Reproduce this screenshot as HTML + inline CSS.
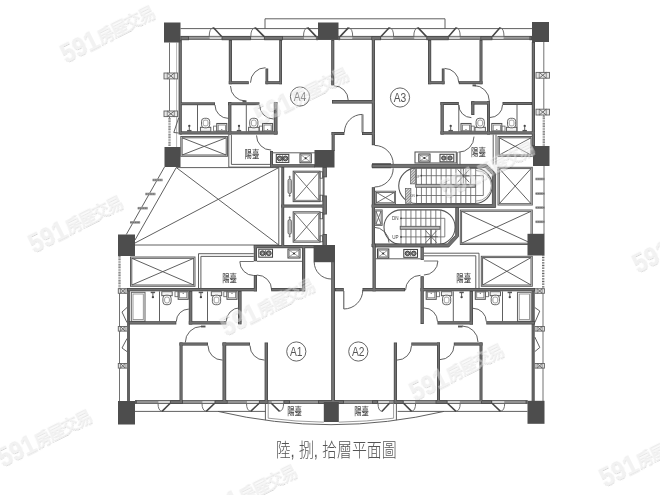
<!DOCTYPE html>
<html lang="zh-Hant"><head><meta charset="utf-8"><title>陸, 捌, 拾層平面圖</title>
<style>html,body{margin:0;padding:0;background:#fff;}body{width:660px;height:495px;overflow:hidden;}svg{display:block;filter:grayscale(1);}</style>
</head><body>
<svg width="660" height="495" viewBox="0 0 660 495">
<rect width="660" height="495" fill="#ffffff"/>
<g id="top-facade">
<line x1="180.5" y1="28.6" x2="532" y2="28.6" stroke="#555555" stroke-width="0.94"/>
<path d="M265 28.6 V18.8 H445 V28.6" fill="none" stroke="#555555" stroke-width="0.94"/>
<rect x="180.5" y="36.4" width="351.5" height="2.9" fill="#9a9a9a"/>
<line x1="180.5" y1="36.4" x2="532" y2="36.4" stroke="#505050" stroke-width="0.94"/>
<line x1="180.5" y1="39.3" x2="532" y2="39.3" stroke="#505050" stroke-width="0.94"/>
<rect x="180.5" y="36.1" width="8.5" height="4.1" fill="#464646"/>
<rect x="221.7" y="36.1" width="29.1" height="4.1" fill="#464646"/>
<rect x="264.2" y="36.1" width="18.8" height="4.1" fill="#464646"/>
<rect x="316.2" y="36.1" width="1.8" height="4.1" fill="#5a5a5a"/>
<rect x="338.5" y="36.1" width="1.5" height="4.1" fill="#5a5a5a"/>
<rect x="371.4" y="36.1" width="9.6" height="4.1" fill="#464646"/>
<rect x="426.5" y="36.1" width="22.1" height="4.1" fill="#464646"/>
<rect x="480.4" y="36.1" width="11.9" height="4.1" fill="#464646"/>
<rect x="529.5" y="36.1" width="2.5" height="4.1" fill="#464646"/>
<rect x="209.7" y="36.8" width="11.5" height="2.1" fill="#f4f4f4"/>
<line x1="209.7" y1="37.85" x2="221.2" y2="37.85" stroke="#888" stroke-width="0.59"/>
<path d="M209.2 36.6 Q209.2 28.4 213.32 27.6" fill="none" stroke="#666" stroke-width="0.94"/>
<path d="M213.32 27.6 L221.7 36.6" fill="none" stroke="#444" stroke-width="1.53"/>
<rect x="251.3" y="36.8" width="12.4" height="2.1" fill="#f4f4f4"/>
<line x1="251.3" y1="37.85" x2="263.7" y2="37.85" stroke="#888" stroke-width="0.59"/>
<path d="M250.8 36.6 Q250.8 28.4 255.22 27.6" fill="none" stroke="#666" stroke-width="0.94"/>
<path d="M255.22 27.6 L264.2 36.6" fill="none" stroke="#444" stroke-width="1.53"/>
<rect x="304" y="36.8" width="11.7" height="2.1" fill="#f4f4f4"/>
<line x1="304" y1="37.85" x2="315.7" y2="37.85" stroke="#888" stroke-width="0.59"/>
<path d="M303.5 36.6 Q303.5 28.4 307.69 27.6" fill="none" stroke="#666" stroke-width="0.94"/>
<path d="M307.69 27.6 L316.2 36.6" fill="none" stroke="#444" stroke-width="1.53"/>
<rect x="340.5" y="36.8" width="11.7" height="2.1" fill="#f4f4f4"/>
<line x1="340.5" y1="37.85" x2="352.2" y2="37.85" stroke="#888" stroke-width="0.59"/>
<path d="M352.7 36.6 Q352.7 28.4 348.51 27.6" fill="none" stroke="#666" stroke-width="0.94"/>
<path d="M348.51 27.6 L340 36.6" fill="none" stroke="#444" stroke-width="1.53"/>
<rect x="381.5" y="36.8" width="11.6" height="2.1" fill="#f4f4f4"/>
<line x1="381.5" y1="37.85" x2="393.1" y2="37.85" stroke="#888" stroke-width="0.59"/>
<path d="M393.6 36.6 Q393.6 28.4 389.44 27.6" fill="none" stroke="#666" stroke-width="0.94"/>
<path d="M389.44 27.6 L381 36.6" fill="none" stroke="#444" stroke-width="1.53"/>
<rect x="414.3" y="36.8" width="11.7" height="2.1" fill="#f4f4f4"/>
<line x1="414.3" y1="37.85" x2="426" y2="37.85" stroke="#888" stroke-width="0.59"/>
<path d="M413.8 36.6 Q413.8 28.4 417.99 27.6" fill="none" stroke="#666" stroke-width="0.94"/>
<path d="M417.99 27.6 L426.5 36.6" fill="none" stroke="#444" stroke-width="1.53"/>
<rect x="449.1" y="36.8" width="10.6" height="2.1" fill="#f4f4f4"/>
<line x1="449.1" y1="37.85" x2="459.7" y2="37.85" stroke="#888" stroke-width="0.59"/>
<path d="M460.2 36.6 Q460.2 28.4 456.37 27.6" fill="none" stroke="#666" stroke-width="0.94"/>
<path d="M456.37 27.6 L448.6 36.6" fill="none" stroke="#444" stroke-width="1.53"/>
<rect x="492.8" y="36.8" width="10.7" height="2.1" fill="#f4f4f4"/>
<line x1="492.8" y1="37.85" x2="503.5" y2="37.85" stroke="#888" stroke-width="0.59"/>
<path d="M504 36.6 Q504 28.4 500.14 27.6" fill="none" stroke="#666" stroke-width="0.94"/>
<path d="M500.14 27.6 L492.3 36.6" fill="none" stroke="#444" stroke-width="1.53"/>
</g>
<g id="unit-a4">
<rect x="178.6" y="40" width="3.2" height="94.5" fill="#464646"/>
<line x1="169.5" y1="42.5" x2="169.5" y2="118" stroke="#555555" stroke-width="0.83"/>
<line x1="176.6" y1="42.5" x2="176.6" y2="147" stroke="#999" stroke-width="0.71"/>
<rect x="164" y="73" width="13.6" height="5.9" fill="#e6e6e6" stroke="#666" stroke-width="0.94"/>
<line x1="167.26" y1="73" x2="174.34" y2="78.9" stroke="#555" stroke-width="0.83"/>
<line x1="167.26" y1="78.9" x2="174.34" y2="73" stroke="#555" stroke-width="0.83"/>
<line x1="167.26" y1="73" x2="167.26" y2="78.9" stroke="#666" stroke-width="0.71"/>
<line x1="174.34" y1="73" x2="174.34" y2="78.9" stroke="#666" stroke-width="0.71"/>
<rect x="164" y="111" width="13.6" height="5.6" fill="#e6e6e6" stroke="#666" stroke-width="0.94"/>
<line x1="167.26" y1="111" x2="174.34" y2="116.6" stroke="#555" stroke-width="0.83"/>
<line x1="167.26" y1="116.6" x2="174.34" y2="111" stroke="#555" stroke-width="0.83"/>
<line x1="167.26" y1="111" x2="167.26" y2="116.6" stroke="#666" stroke-width="0.71"/>
<line x1="174.34" y1="111" x2="174.34" y2="116.6" stroke="#666" stroke-width="0.71"/>
<line x1="169.5" y1="118" x2="169.5" y2="146.6" stroke="#666" stroke-width="2.36" stroke-dasharray="0.8 0.8"/>
<path d="M178.6 118 L173.8 132.5 L178.6 133" fill="none" stroke="#555" stroke-width="0.94"/>
<rect x="228.8" y="40" width="3.2" height="44.2" fill="#464646"/>
<rect x="228.8" y="81.2" width="20" height="3" fill="#464646"/>
<path d="M250.5 82.7 A15 15 0 0 1 265.5 67.7" fill="none" stroke="#555555" stroke-width="0.94"/>
<rect x="265.5" y="68.5" width="2.7" height="15.7" fill="#464646"/>
<rect x="265.5" y="81.2" width="16.5" height="3" fill="#464646"/>
<rect x="279.2" y="40" width="2.8" height="44.2" fill="#464646"/>
<path d="M230.5 86 A15 15 0 0 0 245.5 101" fill="none" stroke="#555555" stroke-width="0.94"/>
<line x1="242.5" y1="101.3" x2="246.5" y2="101.3" stroke="#555" stroke-width="1.89"/>
<rect x="180" y="102.3" width="35" height="2.9" fill="#464646"/>
<path d="M215 105 A13.4 13.4 0 0 0 228.4 118.4" fill="none" stroke="#555555" stroke-width="0.94"/>
<line x1="197.5" y1="105" x2="197.5" y2="131.5" stroke="#555555" stroke-width="0.94"/>
<rect x="228.2" y="102" width="3.2" height="32.5" fill="#464646"/>
<rect x="228.2" y="102.3" width="31.3" height="2.9" fill="#464646"/>
<path d="M259.6 105 A14 14 0 0 0 273.6 119" fill="none" stroke="#555555" stroke-width="0.94"/>
<rect x="273.8" y="102" width="3.7" height="32.5" fill="#464646"/>
<line x1="246.3" y1="105" x2="246.3" y2="131.5" stroke="#555555" stroke-width="0.94"/>
<rect x="180" y="131.3" width="97.5" height="3.2" fill="#464646"/>
<circle cx="189.3" cy="125.9" r="1.15" fill="#444"/>
<line x1="189.3" y1="125.9" x2="189.3" y2="130.5" stroke="#555" stroke-width="0.94"/>
<line x1="187.1" y1="130.7" x2="191.5" y2="130.7" stroke="#555" stroke-width="1.53"/>
<rect x="200.4" y="127.3" width="10.4" height="4" fill="#f2f2f2" stroke="#555" stroke-width="0.94"/>
<rect x="201.5" y="118.3" width="8.2" height="9.5" rx="3" fill="#fff" stroke="#555" stroke-width="0.9"/>
<rect x="203.2" y="120.1" width="4.8" height="5.8" rx="1.8" fill="none" stroke="#777" stroke-width="0.7"/>
<rect x="213.6" y="126.1" width="3.2" height="5" fill="none" stroke="#666" stroke-width="0.83"/>
<rect x="216.8" y="123.5" width="10" height="7.6" fill="#fff" stroke="#555" stroke-width="1.06"/>
<rect x="218.2" y="125" width="7.2" height="5.9" fill="none" stroke="#777" stroke-width="0.83"/>
<circle cx="221.8" cy="129.5" r="0.6" fill="#555"/>
<circle cx="239" cy="125.9" r="1.15" fill="#444"/>
<line x1="239" y1="125.9" x2="239" y2="130.5" stroke="#555" stroke-width="0.94"/>
<line x1="236.8" y1="130.7" x2="241.2" y2="130.7" stroke="#555" stroke-width="1.53"/>
<rect x="248.6" y="127.3" width="10.4" height="4" fill="#f2f2f2" stroke="#555" stroke-width="0.94"/>
<rect x="249.7" y="118.3" width="8.2" height="9.5" rx="3" fill="#fff" stroke="#555" stroke-width="0.9"/>
<rect x="251.4" y="120.1" width="4.8" height="5.8" rx="1.8" fill="none" stroke="#777" stroke-width="0.7"/>
<rect x="259.4" y="126.1" width="3.2" height="5" fill="none" stroke="#666" stroke-width="0.83"/>
<rect x="262.6" y="123.5" width="10" height="7.6" fill="#fff" stroke="#555" stroke-width="1.06"/>
<rect x="264" y="125" width="7.2" height="5.9" fill="none" stroke="#777" stroke-width="0.83"/>
<circle cx="267.6" cy="129.5" r="0.6" fill="#555"/>
<rect x="180.8" y="136.5" width="46.7" height="19.8" fill="none" stroke="#555555" stroke-width="0.94"/>
<rect x="182.1" y="137.8" width="44.1" height="17.2" fill="none" stroke="#555555" stroke-width="0.94"/>
<line x1="182.1" y1="137.8" x2="226.2" y2="155" stroke="#555555" stroke-width="0.94"/>
<line x1="182.1" y1="155" x2="226.2" y2="137.8" stroke="#555555" stroke-width="0.94"/>
<path d="M228.8 134.8 V167.1 H270.2" fill="none" stroke="#555555" stroke-width="0.94"/>
<path d="M231.4 134.8 V164.4 H270.2" fill="none" stroke="#555555" stroke-width="0.94"/>
<path d="M256.5 135.4 A14.7 14.7 0 0 0 271.2 150.1" fill="none" stroke="#555555" stroke-width="0.94"/>
<text x="0" y="0" font-family='"Liberation Sans", "Noto Sans CJK TC", sans-serif' font-size="10.2" font-weight="500" fill="#4a4a4a" text-anchor="middle" transform="translate(251.9 158) scale(0.72 1)">陽臺</text>
<rect x="270" y="151" width="3" height="16.5" fill="#464646"/>
<rect x="270" y="164.2" width="45" height="3.3" fill="#464646"/>
<line x1="273" y1="152.8" x2="315" y2="152.8" stroke="#555" stroke-width="0.94"/>
<rect x="276.3" y="154.4" width="12.5" height="8" fill="none" stroke="#444" stroke-width="1.06"/>
<circle cx="279.68" cy="158.4" r="2.4" fill="#8a8a8a" stroke="#333" stroke-width="0.9"/>
<circle cx="279.68" cy="158.4" r="0.96" fill="#fff" stroke="#333" stroke-width="0.5"/>
<circle cx="285.43" cy="158.4" r="2.4" fill="#8a8a8a" stroke="#333" stroke-width="0.9"/>
<circle cx="285.43" cy="158.4" r="0.96" fill="#fff" stroke="#333" stroke-width="0.5"/>
<line x1="282.55" y1="155.4" x2="282.55" y2="161.4" stroke="#444" stroke-width="0.83"/>
<rect x="300" y="153.8" width="11.3" height="9" fill="#fff" stroke="#444" stroke-width="1.06"/>
<rect x="301.2" y="155" width="8.9" height="6.6" fill="none" stroke="#777" stroke-width="0.71"/>
<line x1="301.2" y1="155" x2="310.1" y2="161.6" stroke="#777" stroke-width="0.71"/>
<line x1="301.2" y1="161.6" x2="310.1" y2="155" stroke="#777" stroke-width="0.71"/>
<circle cx="305.65" cy="158.3" r="1" fill="#333"/>
<rect x="331.6" y="132" width="3.1" height="19" fill="#464646"/>
<rect x="331.6" y="132" width="12.8" height="3" fill="#464646"/>
<path d="M344.4 132.4 A18 18 0 0 1 362.4 114.4" fill="none" stroke="#555555" stroke-width="0.94"/>
<line x1="362" y1="114.4" x2="362" y2="132.4" stroke="#555" stroke-width="0.83"/>
<line x1="363" y1="114.4" x2="363" y2="132.4" stroke="#555" stroke-width="0.83"/>
<rect x="362" y="132" width="13" height="3" fill="#464646"/>
<rect x="331.2" y="40" width="3.1" height="45.5" fill="#464646"/>
<path d="M333.8 85.8 A14.4 14.4 0 0 1 348.2 100.2" fill="none" stroke="#555555" stroke-width="0.94"/>
<rect x="332" y="100" width="43" height="3.6" fill="#464646"/>
<circle cx="300" cy="96.5" r="9.6" fill="none" stroke="#555" stroke-width="0.9"/>
<text x="0" y="0" font-family='"Liberation Sans", "Noto Sans CJK TC", sans-serif' font-size="13.5" font-weight="400" fill="#555" text-anchor="middle" transform="translate(300 101.3) scale(0.76 1)">A4</text>
</g>
<g id="unit-a3">
<rect x="371.8" y="37.5" width="3.2" height="107.7" fill="#464646"/>
<rect x="531.8" y="42" width="3.2" height="104" fill="#464646"/>
<line x1="543.8" y1="42" x2="543.8" y2="116.6" stroke="#555555" stroke-width="0.83"/>
<rect x="536" y="72.4" width="13.5" height="5.8" fill="#e6e6e6" stroke="#666" stroke-width="0.94"/>
<line x1="539.24" y1="72.4" x2="546.26" y2="78.2" stroke="#555" stroke-width="0.83"/>
<line x1="539.24" y1="78.2" x2="546.26" y2="72.4" stroke="#555" stroke-width="0.83"/>
<line x1="539.24" y1="72.4" x2="539.24" y2="78.2" stroke="#666" stroke-width="0.71"/>
<line x1="546.26" y1="72.4" x2="546.26" y2="78.2" stroke="#666" stroke-width="0.71"/>
<rect x="536" y="109.2" width="13.5" height="5.8" fill="#e6e6e6" stroke="#666" stroke-width="0.94"/>
<line x1="539.24" y1="109.2" x2="546.26" y2="115" stroke="#555" stroke-width="0.83"/>
<line x1="539.24" y1="115" x2="546.26" y2="109.2" stroke="#555" stroke-width="0.83"/>
<line x1="539.24" y1="109.2" x2="539.24" y2="115" stroke="#666" stroke-width="0.71"/>
<line x1="546.26" y1="109.2" x2="546.26" y2="115" stroke="#666" stroke-width="0.71"/>
<line x1="543.8" y1="116.6" x2="543.8" y2="146" stroke="#666" stroke-width="2.36" stroke-dasharray="0.8 0.8"/>
<rect x="428" y="40" width="3.2" height="44.2" fill="#464646"/>
<rect x="428" y="81.2" width="16.5" height="3" fill="#464646"/>
<rect x="441.8" y="68.5" width="2.7" height="15.7" fill="#464646"/>
<path d="M444.5 68.4 A14.3 14.3 0 0 1 458.8 82.7" fill="none" stroke="#555555" stroke-width="0.94"/>
<rect x="458.8" y="81.2" width="23.7" height="3" fill="#464646"/>
<rect x="479.5" y="40" width="3" height="44.2" fill="#464646"/>
<path d="M473.8 85.5 A15.5 15.5 0 0 1 489.3 101" fill="none" stroke="#555555" stroke-width="0.94"/>
<line x1="472.5" y1="85.4" x2="476" y2="85.4" stroke="#555" stroke-width="1.89"/>
<rect x="440.5" y="102" width="3.3" height="32.5" fill="#464646"/>
<rect x="440.5" y="102" width="18.3" height="3" fill="#464646"/>
<path d="M458.8 105 A12.6 12.6 0 0 0 471.4 117.6" fill="none" stroke="#555555" stroke-width="0.94"/>
<rect x="471.2" y="101.3" width="3.2" height="13.7" fill="#464646"/>
<rect x="471.2" y="101.3" width="18.8" height="3.3" fill="#464646"/>
<rect x="487" y="101.3" width="3" height="33.2" fill="#464646"/>
<line x1="458.8" y1="105" x2="458.8" y2="131.5" stroke="#555555" stroke-width="0.94"/>
<rect x="502.5" y="102" width="29.5" height="3" fill="#464646"/>
<path d="M502.5 105 A12.5 12.5 0 0 1 490 117.5" fill="none" stroke="#555555" stroke-width="0.94"/>
<line x1="517" y1="105" x2="517" y2="131.5" stroke="#555555" stroke-width="0.94"/>
<rect x="440.5" y="131.3" width="94.5" height="3.2" fill="#464646"/>
<circle cx="450.7" cy="125.9" r="1.15" fill="#444"/>
<line x1="450.7" y1="125.9" x2="450.7" y2="130.5" stroke="#555" stroke-width="0.94"/>
<line x1="448.5" y1="130.7" x2="452.9" y2="130.7" stroke="#555" stroke-width="1.53"/>
<rect x="471" y="126.1" width="3.2" height="5" fill="none" stroke="#666" stroke-width="0.83"/>
<rect x="461" y="123.5" width="10" height="7.6" fill="#fff" stroke="#555" stroke-width="1.06"/>
<rect x="462.4" y="125" width="7.2" height="5.9" fill="none" stroke="#777" stroke-width="0.83"/>
<circle cx="466" cy="129.5" r="0.6" fill="#555"/>
<rect x="475" y="127.3" width="10.4" height="4" fill="#f2f2f2" stroke="#555" stroke-width="0.94"/>
<rect x="476.1" y="118.3" width="8.2" height="9.5" rx="3" fill="#fff" stroke="#555" stroke-width="0.9"/>
<rect x="477.8" y="120.1" width="4.8" height="5.8" rx="1.8" fill="none" stroke="#777" stroke-width="0.7"/>
<rect x="501.8" y="126.1" width="3.2" height="5" fill="none" stroke="#666" stroke-width="0.83"/>
<rect x="491.8" y="123.5" width="10" height="7.6" fill="#fff" stroke="#555" stroke-width="1.06"/>
<rect x="493.2" y="125" width="7.2" height="5.9" fill="none" stroke="#777" stroke-width="0.83"/>
<circle cx="496.8" cy="129.5" r="0.6" fill="#555"/>
<rect x="506.4" y="127.3" width="10.4" height="4" fill="#f2f2f2" stroke="#555" stroke-width="0.94"/>
<rect x="507.5" y="118.3" width="8.2" height="9.5" rx="3" fill="#fff" stroke="#555" stroke-width="0.9"/>
<rect x="509.2" y="120.1" width="4.8" height="5.8" rx="1.8" fill="none" stroke="#777" stroke-width="0.7"/>
<circle cx="524.7" cy="125.9" r="1.15" fill="#444"/>
<line x1="524.7" y1="125.9" x2="524.7" y2="130.5" stroke="#555" stroke-width="0.94"/>
<line x1="522.5" y1="130.7" x2="526.9" y2="130.7" stroke="#555" stroke-width="1.53"/>
<line x1="493.2" y1="134.5" x2="493.2" y2="164.4" stroke="#555555" stroke-width="0.94"/>
<line x1="496" y1="134.5" x2="496" y2="164.4" stroke="#555555" stroke-width="0.94"/>
<line x1="457.2" y1="152" x2="457.2" y2="164.4" stroke="#555555" stroke-width="0.94"/>
<line x1="460" y1="152" x2="460" y2="164.4" stroke="#555555" stroke-width="0.94"/>
<path d="M474 136.6 A15.6 15.6 0 0 1 458.4 152.2" fill="none" stroke="#555555" stroke-width="0.94"/>
<text x="0" y="0" font-family='"Liberation Sans", "Noto Sans CJK TC", sans-serif' font-size="10.2" font-weight="500" fill="#4a4a4a" text-anchor="middle" transform="translate(478.4 155.7) scale(0.72 1)">陽臺</text>
<rect x="498" y="136.5" width="34.3" height="19.8" fill="none" stroke="#555555" stroke-width="0.94"/>
<rect x="499.3" y="137.8" width="31.7" height="17.2" fill="none" stroke="#555555" stroke-width="0.94"/>
<line x1="499.3" y1="137.8" x2="531" y2="155" stroke="#555555" stroke-width="0.94"/>
<line x1="499.3" y1="155" x2="531" y2="137.8" stroke="#555555" stroke-width="0.94"/>
<rect x="415" y="152" width="41.3" height="11" fill="none" stroke="#555" stroke-width="1.06"/>
<rect x="418.8" y="154" width="11.2" height="8" fill="#fff" stroke="#444" stroke-width="1.06"/>
<rect x="420" y="155.2" width="8.8" height="5.6" fill="none" stroke="#777" stroke-width="0.71"/>
<line x1="420" y1="155.2" x2="428.8" y2="160.8" stroke="#777" stroke-width="0.71"/>
<line x1="420" y1="160.8" x2="428.8" y2="155.2" stroke="#777" stroke-width="0.71"/>
<circle cx="424.4" cy="158" r="1" fill="#333"/>
<rect x="440" y="154.3" width="13.8" height="7.5" fill="none" stroke="#444" stroke-width="1.06"/>
<circle cx="443.73" cy="158.05" r="2.15" fill="#8a8a8a" stroke="#333" stroke-width="0.9"/>
<circle cx="443.73" cy="158.05" r="0.86" fill="#fff" stroke="#333" stroke-width="0.5"/>
<circle cx="450.07" cy="158.05" r="2.15" fill="#8a8a8a" stroke="#333" stroke-width="0.9"/>
<circle cx="450.07" cy="158.05" r="0.86" fill="#fff" stroke="#333" stroke-width="0.5"/>
<line x1="446.9" y1="155.3" x2="446.9" y2="160.8" stroke="#444" stroke-width="0.83"/>
<circle cx="400" cy="97.5" r="9.6" fill="none" stroke="#555" stroke-width="0.9"/>
<text x="0" y="0" font-family='"Liberation Sans", "Noto Sans CJK TC", sans-serif' font-size="13.5" font-weight="400" fill="#555" text-anchor="middle" transform="translate(400 102.3) scale(0.76 1)">A3</text>
</g>
<g id="core">
<path d="M164.5 167 L126.3 234.5" fill="none" stroke="#555555" stroke-width="0.94"/>
<path d="M176.3 167.5 L135 240" fill="none" stroke="#555555" stroke-width="0.94"/>
<line x1="152.6" y1="180" x2="162.6" y2="180" stroke="#9a9a9a" stroke-width="2.6"/>
<line x1="152.6" y1="180" x2="162.6" y2="180" stroke="#555" stroke-width="0.71" stroke-dasharray="1.6 0.8"/>
<line x1="145.4" y1="194" x2="155.4" y2="194" stroke="#9a9a9a" stroke-width="2.6"/>
<line x1="145.4" y1="194" x2="155.4" y2="194" stroke="#555" stroke-width="0.71" stroke-dasharray="1.6 0.8"/>
<line x1="137.7" y1="208.2" x2="147.7" y2="208.2" stroke="#9a9a9a" stroke-width="2.6"/>
<line x1="137.7" y1="208.2" x2="147.7" y2="208.2" stroke="#555" stroke-width="0.71" stroke-dasharray="1.6 0.8"/>
<line x1="130.1" y1="222.4" x2="140.1" y2="222.4" stroke="#9a9a9a" stroke-width="2.6"/>
<line x1="130.1" y1="222.4" x2="140.1" y2="222.4" stroke="#555" stroke-width="0.71" stroke-dasharray="1.6 0.8"/>
<path d="M176.3 167.6 H278.8 V245 H135" fill="none" stroke="#555555" stroke-width="0.94"/>
<line x1="176.3" y1="167.6" x2="278.8" y2="245" stroke="#555555" stroke-width="0.94"/>
<line x1="135" y1="243" x2="278.8" y2="167.6" stroke="#555555" stroke-width="0.94"/>
<rect x="281.3" y="167" width="2.9" height="80" fill="#464646"/>
<rect x="281.3" y="204.5" width="42.7" height="3.1" fill="#464646"/>
<rect x="322.6" y="167" width="2" height="80" fill="#6a6a6a"/>
<rect x="322.6" y="167" width="4.3" height="10.3" fill="#464646"/>
<rect x="322.6" y="195.5" width="4.3" height="19" fill="#464646"/>
<rect x="322.6" y="234" width="4.3" height="13" fill="#464646"/>
<rect x="293.2" y="171.2" width="26.8" height="30.4" fill="none" stroke="#555" stroke-width="1.06"/>
<rect x="294.5" y="172.5" width="24.2" height="27.8" fill="none" stroke="#666" stroke-width="0.83"/>
<line x1="294.5" y1="172.5" x2="318.7" y2="200.3" stroke="#555555" stroke-width="0.83"/>
<line x1="294.5" y1="200.3" x2="318.7" y2="172.5" stroke="#555555" stroke-width="0.83"/>
<rect x="288" y="179" width="3.4" height="14.6" rx="1.6" fill="#bdbdbd" stroke="#555" stroke-width="0.8"/>
<line x1="289.7" y1="175.8" x2="289.7" y2="179" stroke="#555" stroke-width="0.83"/>
<line x1="289.7" y1="193.6" x2="289.7" y2="196.8" stroke="#555" stroke-width="0.83"/>
<line x1="288.7" y1="177" x2="290.7" y2="177" stroke="#555" stroke-width="0.71"/>
<line x1="288.7" y1="195.6" x2="290.7" y2="195.6" stroke="#555" stroke-width="0.71"/>
<rect x="320" y="171.8" width="2.6" height="6.4" fill="none" stroke="#555" stroke-width="0.83"/>
<rect x="320" y="195.2" width="2.6" height="6" fill="none" stroke="#555" stroke-width="0.83"/>
<rect x="293.2" y="211.8" width="26.8" height="30.4" fill="none" stroke="#555" stroke-width="1.06"/>
<rect x="294.5" y="213.1" width="24.2" height="27.8" fill="none" stroke="#666" stroke-width="0.83"/>
<line x1="294.5" y1="213.1" x2="318.7" y2="240.9" stroke="#555555" stroke-width="0.83"/>
<line x1="294.5" y1="240.9" x2="318.7" y2="213.1" stroke="#555555" stroke-width="0.83"/>
<rect x="288" y="219.6" width="3.4" height="14.6" rx="1.6" fill="#bdbdbd" stroke="#555" stroke-width="0.8"/>
<line x1="289.7" y1="216.4" x2="289.7" y2="219.6" stroke="#555" stroke-width="0.83"/>
<line x1="289.7" y1="234.2" x2="289.7" y2="237.4" stroke="#555" stroke-width="0.83"/>
<line x1="288.7" y1="217.6" x2="290.7" y2="217.6" stroke="#555" stroke-width="0.71"/>
<line x1="288.7" y1="236.2" x2="290.7" y2="236.2" stroke="#555" stroke-width="0.71"/>
<rect x="320" y="212.4" width="2.6" height="6.4" fill="none" stroke="#555" stroke-width="0.83"/>
<rect x="320" y="235.8" width="2.6" height="6" fill="none" stroke="#555" stroke-width="0.83"/>
<rect x="372" y="163.2" width="19" height="5" fill="#555"/>
<path d="M374.6 145.4 A18.6 18.6 0 0 1 393.2 164" fill="none" stroke="#555555" stroke-width="0.94"/>
<path d="M393.2 168.4 A18.6 18.6 0 0 1 374.6 187" fill="none" stroke="#555555" stroke-width="0.94"/>
<rect x="371.8" y="187.2" width="3.2" height="59.8" fill="#464646"/>
<path d="M372 204.5 H492.4 V174.6 L485.2 167.6 H372 V164.4 H486.6 L495.6 173.3 V207.5 H372 Z" fill="#727272" stroke="#464646" stroke-width="0.83"/>
<path d="M416.4 168.1 H474.6 A17.7 17.7 0 0 1 474.6 203.5 H416.4 A17.7 17.7 0 0 1 416.4 168.1 Z" fill="none" stroke="#555" stroke-width="1.06"/>
<path d="M476 170.5 A15.3 15.3 0 0 1 476 201.1" fill="none" stroke="#888" stroke-width="0.71"/>
<line x1="416.5" y1="168.1" x2="416.5" y2="203.5" stroke="#666" stroke-width="0.83"/>
<line x1="421.43" y1="168.1" x2="421.43" y2="203.5" stroke="#666" stroke-width="0.83"/>
<line x1="426.36" y1="168.1" x2="426.36" y2="203.5" stroke="#666" stroke-width="0.83"/>
<line x1="431.29" y1="168.1" x2="431.29" y2="203.5" stroke="#666" stroke-width="0.83"/>
<line x1="436.22" y1="168.1" x2="436.22" y2="203.5" stroke="#666" stroke-width="0.83"/>
<line x1="441.15" y1="168.1" x2="441.15" y2="203.5" stroke="#666" stroke-width="0.83"/>
<line x1="446.08" y1="168.1" x2="446.08" y2="203.5" stroke="#666" stroke-width="0.83"/>
<line x1="451.01" y1="168.1" x2="451.01" y2="203.5" stroke="#666" stroke-width="0.83"/>
<line x1="455.94" y1="168.1" x2="455.94" y2="203.5" stroke="#666" stroke-width="0.83"/>
<line x1="460.87" y1="168.1" x2="460.87" y2="203.5" stroke="#666" stroke-width="0.83"/>
<line x1="465.8" y1="168.1" x2="465.8" y2="203.5" stroke="#666" stroke-width="0.83"/>
<line x1="470.73" y1="168.1" x2="470.73" y2="203.5" stroke="#666" stroke-width="0.83"/>
<line x1="475.66" y1="168.1" x2="475.66" y2="203.5" stroke="#666" stroke-width="0.83"/>
<rect x="415.7" y="184.3" width="59.6" height="3" fill="#b5b5b5"/>
<rect x="415.7" y="184.3" width="59.6" height="3" fill="none" stroke="#555" stroke-width="0.83"/>
<pattern id="hatch" width="2" height="2" patternUnits="userSpaceOnUse" patternTransform="rotate(45)"><rect width="2" height="2" fill="#e2e2e2"/><line x1="0" y1="0" x2="0" y2="2" stroke="#444" stroke-width="1.1"/></pattern>
<rect x="410.4" y="168.7" width="5.3" height="15.2" fill="url(#hatch)" stroke="#555" stroke-width="0.6"/>
<rect x="405.3" y="188.3" width="5.6" height="15.2" fill="url(#hatch)" stroke="#555" stroke-width="0.6"/>
<path d="M421.2 175.7 H483.3 V195.5 H416.8" fill="none" stroke="#666" stroke-width="0.83"/>
<circle cx="421.2" cy="175.7" r="0.9" fill="#444"/>
<circle cx="416.8" cy="195.5" r="0.9" fill="#444"/>
<path d="M457.6 169.5 L469.2 182.3 M469.2 169.5 L457.6 182.3 M463.4 168.5 V183.5 M456.5 175.9 H470.3" fill="none" stroke="#555" stroke-width="0.83"/>
<text x="0" y="0" font-family='"Liberation Sans", "Noto Sans CJK TC", sans-serif' font-size="3.4" font-weight="400" fill="#555" text-anchor="middle" transform="translate(417.6 177.6) scale(0.9 1)">UP</text>
<text x="0" y="0" font-family='"Liberation Sans", "Noto Sans CJK TC", sans-serif' font-size="3.4" font-weight="400" fill="#555" text-anchor="middle" transform="translate(412.6 197.3) scale(0.9 1)">DN</text>
<rect x="375.2" y="191.2" width="20.4" height="12.8" fill="none" stroke="#555555" stroke-width="0.83"/>
<rect x="376.4" y="192.4" width="18" height="10.4" fill="none" stroke="#555555" stroke-width="0.83"/>
<line x1="376.4" y1="192.4" x2="394.4" y2="202.8" stroke="#555555" stroke-width="0.83"/>
<line x1="376.4" y1="202.8" x2="394.4" y2="192.4" stroke="#555555" stroke-width="0.83"/>
<rect x="374.8" y="209.9" width="7.4" height="15.5" fill="none" stroke="#555555" stroke-width="0.83"/>
<rect x="375.9" y="211" width="5.2" height="13.3" fill="none" stroke="#555555" stroke-width="0.83"/>
<line x1="375.9" y1="211" x2="381.1" y2="224.3" stroke="#555555" stroke-width="0.83"/>
<line x1="375.9" y1="224.3" x2="381.1" y2="211" stroke="#555555" stroke-width="0.83"/>
<path d="M373.6 227.2 A15.4 15.4 0 0 1 389 242.6" fill="none" stroke="#555555" stroke-width="0.94"/>
<path d="M401.3 209.9 H437.8 A17.3 17.3 0 0 1 437.8 244.5 H401.3 A17.3 17.3 0 0 1 401.3 209.9 Z" fill="none" stroke="#555" stroke-width="1.06"/>
<line x1="401" y1="209.9" x2="401" y2="244.5" stroke="#666" stroke-width="0.83"/>
<line x1="405.97" y1="209.9" x2="405.97" y2="244.5" stroke="#666" stroke-width="0.83"/>
<line x1="410.94" y1="209.9" x2="410.94" y2="244.5" stroke="#666" stroke-width="0.83"/>
<line x1="415.91" y1="209.9" x2="415.91" y2="244.5" stroke="#666" stroke-width="0.83"/>
<line x1="420.88" y1="209.9" x2="420.88" y2="244.5" stroke="#666" stroke-width="0.83"/>
<line x1="425.85" y1="209.9" x2="425.85" y2="244.5" stroke="#666" stroke-width="0.83"/>
<line x1="430.82" y1="209.9" x2="430.82" y2="244.5" stroke="#666" stroke-width="0.83"/>
<line x1="435.79" y1="209.9" x2="435.79" y2="244.5" stroke="#666" stroke-width="0.83"/>
<line x1="440.76" y1="209.9" x2="440.76" y2="244.5" stroke="#666" stroke-width="0.83"/>
<rect x="400.2" y="226.3" width="39.8" height="3" fill="#b5b5b5"/>
<rect x="400.2" y="226.3" width="39.8" height="3" fill="none" stroke="#555" stroke-width="0.83"/>
<path d="M401 218.3 H444.8 V236.9 H401" fill="none" stroke="#666" stroke-width="0.83"/>
<circle cx="401" cy="218.3" r="0.9" fill="#444"/>
<circle cx="401" cy="236.9" r="0.9" fill="#444"/>
<path d="M425.6 230.6 L436.8 242.8 M436.8 230.6 L425.6 242.8 M431.2 229.4 V244.2 M424.6 236.7 H437.8" fill="none" stroke="#555" stroke-width="0.83"/>
<text x="0" y="0" font-family='"Liberation Sans", "Noto Sans CJK TC", sans-serif' font-size="5.2" font-weight="400" fill="#444" text-anchor="middle" transform="translate(395.3 220.3) scale(0.88 1)">DN</text>
<text x="0" y="0" font-family='"Liberation Sans", "Noto Sans CJK TC", sans-serif' font-size="5.2" font-weight="400" fill="#444" text-anchor="middle" transform="translate(395.3 239.2) scale(0.88 1)">UP</text>
<path d="M455.7 207.5 H458.5 V236.6 L448.8 247 H372 V243.9 H447.4 L455.7 235.2 Z" fill="#727272" stroke="#464646" stroke-width="0.83"/>
<rect x="498" y="167.3" width="34.3" height="37.7" fill="none" stroke="#555555" stroke-width="0.94"/>
<rect x="499.3" y="168.6" width="31.7" height="35.1" fill="none" stroke="#555555" stroke-width="0.94"/>
<line x1="499.3" y1="168.6" x2="531" y2="203.7" stroke="#555555" stroke-width="0.94"/>
<line x1="499.3" y1="203.7" x2="531" y2="168.6" stroke="#555555" stroke-width="0.94"/>
<rect x="460.3" y="210" width="72" height="34.5" fill="none" stroke="#555555" stroke-width="0.94"/>
<rect x="461.6" y="211.3" width="69.4" height="31.9" fill="none" stroke="#555555" stroke-width="0.94"/>
<line x1="461.6" y1="211.3" x2="531" y2="243.2" stroke="#555555" stroke-width="0.94"/>
<line x1="461.6" y1="243.2" x2="531" y2="211.3" stroke="#555555" stroke-width="0.94"/>
<line x1="544" y1="166" x2="544" y2="234" stroke="#555555" stroke-width="0.83"/>
<line x1="535.5" y1="179" x2="544.8" y2="179" stroke="#9a9a9a" stroke-width="2.6"/>
<line x1="535.5" y1="179" x2="544.8" y2="179" stroke="#555" stroke-width="0.71" stroke-dasharray="1.6 0.8"/>
<line x1="535.5" y1="193.6" x2="544.8" y2="193.6" stroke="#9a9a9a" stroke-width="2.6"/>
<line x1="535.5" y1="193.6" x2="544.8" y2="193.6" stroke="#555" stroke-width="0.71" stroke-dasharray="1.6 0.8"/>
<line x1="535.5" y1="207.6" x2="544.8" y2="207.6" stroke="#9a9a9a" stroke-width="2.6"/>
<line x1="535.5" y1="207.6" x2="544.8" y2="207.6" stroke="#555" stroke-width="0.71" stroke-dasharray="1.6 0.8"/>
<line x1="535.5" y1="221.8" x2="544.8" y2="221.8" stroke="#9a9a9a" stroke-width="2.6"/>
<line x1="535.5" y1="221.8" x2="544.8" y2="221.8" stroke="#555" stroke-width="0.71" stroke-dasharray="1.6 0.8"/>
</g>
<g id="unit-a1">
<rect x="127" y="288" width="3" height="113.5" fill="#626262"/>
<line x1="119.5" y1="288.7" x2="119.5" y2="401" stroke="#555555" stroke-width="0.83"/>
<line x1="119.5" y1="256" x2="119.5" y2="288.7" stroke="#666" stroke-width="2.36" stroke-dasharray="0.8 0.8"/>
<rect x="118.3" y="288.7" width="8.9" height="4.6" fill="#e6e6e6" stroke="#666" stroke-width="0.94"/>
<line x1="120.44" y1="288.7" x2="125.06" y2="293.3" stroke="#555" stroke-width="0.83"/>
<line x1="120.44" y1="293.3" x2="125.06" y2="288.7" stroke="#555" stroke-width="0.83"/>
<line x1="120.44" y1="288.7" x2="120.44" y2="293.3" stroke="#666" stroke-width="0.71"/>
<line x1="125.06" y1="288.7" x2="125.06" y2="293.3" stroke="#666" stroke-width="0.71"/>
<rect x="118.3" y="326.5" width="8.9" height="4.6" fill="#e6e6e6" stroke="#666" stroke-width="0.94"/>
<line x1="120.44" y1="326.5" x2="125.06" y2="331.1" stroke="#555" stroke-width="0.83"/>
<line x1="120.44" y1="331.1" x2="125.06" y2="326.5" stroke="#555" stroke-width="0.83"/>
<line x1="120.44" y1="326.5" x2="120.44" y2="331.1" stroke="#666" stroke-width="0.71"/>
<line x1="125.06" y1="326.5" x2="125.06" y2="331.1" stroke="#666" stroke-width="0.71"/>
<rect x="118.3" y="363.5" width="8.9" height="4.6" fill="#e6e6e6" stroke="#666" stroke-width="0.94"/>
<line x1="120.44" y1="363.5" x2="125.06" y2="368.1" stroke="#555" stroke-width="0.83"/>
<line x1="120.44" y1="368.1" x2="125.06" y2="363.5" stroke="#555" stroke-width="0.83"/>
<line x1="120.44" y1="363.5" x2="120.44" y2="368.1" stroke="#666" stroke-width="0.71"/>
<line x1="125.06" y1="363.5" x2="125.06" y2="368.1" stroke="#666" stroke-width="0.71"/>
<path d="M127 307.5 L122 312 L127 322.6" fill="none" stroke="#555" stroke-width="0.94"/>
<path d="M127 338.5 L122 348 L127 351.6" fill="none" stroke="#555" stroke-width="0.94"/>
<rect x="130.5" y="257" width="64.5" height="29.3" fill="none" stroke="#555555" stroke-width="0.94"/>
<rect x="131.8" y="258.3" width="61.9" height="26.7" fill="none" stroke="#555555" stroke-width="0.94"/>
<line x1="131.8" y1="258.3" x2="193.7" y2="285" stroke="#555555" stroke-width="0.94"/>
<line x1="131.8" y1="285" x2="193.7" y2="258.3" stroke="#555555" stroke-width="0.94"/>
<path d="M198.5 288.5 V253.7 H253.8" fill="none" stroke="#555555" stroke-width="0.94"/>
<path d="M200.9 288.5 V256.4 H253.8" fill="none" stroke="#555555" stroke-width="0.94"/>
<line x1="240" y1="261.5" x2="253.8" y2="261.5" stroke="#555555" stroke-width="0.83"/>
<text x="0" y="0" font-family='"Liberation Sans", "Noto Sans CJK TC", sans-serif' font-size="10.2" font-weight="500" fill="#4a4a4a" text-anchor="middle" transform="translate(229.5 281.6) scale(0.72 1)">陽臺</text>
<rect x="253.8" y="245" width="81.2" height="3.2" fill="#464646"/>
<rect x="253.8" y="245" width="3.2" height="16.3" fill="#464646"/>
<rect x="253.8" y="275" width="3.2" height="16.3" fill="#464646"/>
<rect x="302" y="245" width="3.2" height="46.3" fill="#464646"/>
<line x1="257" y1="261.3" x2="302" y2="261.3" stroke="#555" stroke-width="0.94"/>
<rect x="258.8" y="249.2" width="13.7" height="8" fill="none" stroke="#444" stroke-width="1.06"/>
<circle cx="262.5" cy="253.2" r="2.4" fill="#8a8a8a" stroke="#333" stroke-width="0.9"/>
<circle cx="262.5" cy="253.2" r="0.96" fill="#fff" stroke="#333" stroke-width="0.5"/>
<circle cx="268.8" cy="253.2" r="2.4" fill="#8a8a8a" stroke="#333" stroke-width="0.9"/>
<circle cx="268.8" cy="253.2" r="0.96" fill="#fff" stroke="#333" stroke-width="0.5"/>
<line x1="265.65" y1="250.2" x2="265.65" y2="256.2" stroke="#444" stroke-width="0.83"/>
<rect x="288" y="249" width="12" height="9" fill="#fff" stroke="#444" stroke-width="1.06"/>
<rect x="289.2" y="250.2" width="9.6" height="6.6" fill="none" stroke="#777" stroke-width="0.71"/>
<line x1="289.2" y1="250.2" x2="298.8" y2="256.8" stroke="#777" stroke-width="0.71"/>
<line x1="289.2" y1="256.8" x2="298.8" y2="250.2" stroke="#777" stroke-width="0.71"/>
<circle cx="294" cy="253.5" r="1" fill="#333"/>
<path d="M239.8 261.5 A14 14 0 0 0 253.8 275.5" fill="none" stroke="#555555" stroke-width="0.94"/>
<path d="M256.8 275 A14.8 14.8 0 0 1 271.6 289.8" fill="none" stroke="#555555" stroke-width="0.94"/>
<rect x="271.2" y="288" width="34" height="3.3" fill="#464646"/>
<rect x="127" y="288" width="130" height="3.3" fill="#464646"/>
<rect x="131.3" y="292.3" width="13.7" height="29" fill="none" stroke="#666" stroke-width="1.06"/>
<rect x="133" y="294" width="10.3" height="25.6" fill="none" stroke="#888" stroke-width="0.83"/>
<line x1="159.5" y1="291.3" x2="159.5" y2="321.3" stroke="#555555" stroke-width="0.94"/>
<circle cx="152.9" cy="297.2" r="1.15" fill="#444"/>
<line x1="152.9" y1="297.2" x2="152.9" y2="292.6" stroke="#555" stroke-width="0.94"/>
<line x1="150.7" y1="292.4" x2="155.1" y2="292.4" stroke="#555" stroke-width="1.53"/>
<rect x="161.8" y="291.7" width="10.4" height="4" fill="#f2f2f2" stroke="#555" stroke-width="0.94"/>
<rect x="162.9" y="295.2" width="8.2" height="9.5" rx="3" fill="#fff" stroke="#555" stroke-width="0.9"/>
<rect x="164.6" y="297.1" width="4.8" height="5.8" rx="1.8" fill="none" stroke="#777" stroke-width="0.7"/>
<rect x="175" y="291.7" width="3.2" height="5" fill="none" stroke="#666" stroke-width="0.83"/>
<rect x="178.2" y="291.7" width="10" height="7.6" fill="#fff" stroke="#555" stroke-width="1.06"/>
<rect x="179.6" y="291.9" width="7.2" height="5.9" fill="none" stroke="#777" stroke-width="0.83"/>
<circle cx="183.2" cy="293.3" r="0.6" fill="#555"/>
<rect x="128.8" y="321.2" width="47.5" height="3.3" fill="#464646"/>
<path d="M176.3 321.6 A12.5 12.5 0 0 1 188.8 309.1" fill="none" stroke="#555555" stroke-width="0.94"/>
<rect x="188.8" y="291" width="3.5" height="33.5" fill="#464646"/>
<line x1="207.5" y1="291.3" x2="207.5" y2="321.3" stroke="#555555" stroke-width="0.94"/>
<circle cx="200.9" cy="297.2" r="1.15" fill="#444"/>
<line x1="200.9" y1="297.2" x2="200.9" y2="292.6" stroke="#555" stroke-width="0.94"/>
<line x1="198.7" y1="292.4" x2="203.1" y2="292.4" stroke="#555" stroke-width="1.53"/>
<rect x="211.3" y="291.7" width="10.4" height="4" fill="#f2f2f2" stroke="#555" stroke-width="0.94"/>
<rect x="212.4" y="295.2" width="8.2" height="9.5" rx="3" fill="#fff" stroke="#555" stroke-width="0.9"/>
<rect x="214.1" y="297.1" width="4.8" height="5.8" rx="1.8" fill="none" stroke="#777" stroke-width="0.7"/>
<rect x="223.8" y="291.7" width="3.2" height="5" fill="none" stroke="#666" stroke-width="0.83"/>
<rect x="227" y="291.7" width="10" height="7.6" fill="#fff" stroke="#555" stroke-width="1.06"/>
<rect x="228.4" y="291.9" width="7.2" height="5.9" fill="none" stroke="#777" stroke-width="0.83"/>
<circle cx="232" cy="293.3" r="0.6" fill="#555"/>
<rect x="188.8" y="321.2" width="37.5" height="3.3" fill="#464646"/>
<rect x="238" y="291" width="3.6" height="33.5" fill="#464646"/>
<path d="M226.2 321.6 A13.8 13.8 0 0 1 240 307.8" fill="none" stroke="#555555" stroke-width="0.94"/>
<path d="M185.3 342.5 A16 16 0 0 1 201.3 326.5" fill="none" stroke="#555555" stroke-width="0.94"/>
<line x1="201" y1="326.5" x2="205.5" y2="326.5" stroke="#555" stroke-width="1.89"/>
<rect x="179.5" y="342.5" width="3.1" height="59.5" fill="#464646"/>
<rect x="179.5" y="342.5" width="28.5" height="3.1" fill="#464646"/>
<path d="M208 345.6 A14.5 14.5 0 0 0 222.5 360.1" fill="none" stroke="#555555" stroke-width="0.94"/>
<rect x="222.5" y="342.5" width="3.7" height="59.5" fill="#464646"/>
<rect x="222.5" y="342.5" width="27.5" height="3.1" fill="#464646"/>
<path d="M250 345.6 A14.5 14.5 0 0 0 264.5 360.1" fill="none" stroke="#555555" stroke-width="0.94"/>
<rect x="264.6" y="342.5" width="3.4" height="59.5" fill="#464646"/>
<rect x="331.2" y="261" width="3.8" height="141" fill="#464646"/>
<path d="M314.2 262 A17 17 0 0 0 331.2 279" fill="none" stroke="#555555" stroke-width="0.94"/>
<circle cx="296.3" cy="351.5" r="9.6" fill="none" stroke="#555" stroke-width="0.9"/>
<text x="0" y="0" font-family='"Liberation Sans", "Noto Sans CJK TC", sans-serif' font-size="13.5" font-weight="400" fill="#555" text-anchor="middle" transform="translate(296.3 356.3) scale(0.76 1)">A1</text>
</g>
<g id="unit-a2">
<rect x="531.6" y="288" width="3.2" height="113.5" fill="#626262"/>
<line x1="543" y1="288.7" x2="543" y2="401" stroke="#555555" stroke-width="0.83"/>
<line x1="543.2" y1="255.5" x2="543.2" y2="288.7" stroke="#666" stroke-width="2.36" stroke-dasharray="0.8 0.8"/>
<rect x="534.8" y="288.7" width="9.6" height="4.6" fill="#e6e6e6" stroke="#666" stroke-width="0.94"/>
<line x1="537.1" y1="288.7" x2="542.1" y2="293.3" stroke="#555" stroke-width="0.83"/>
<line x1="537.1" y1="293.3" x2="542.1" y2="288.7" stroke="#555" stroke-width="0.83"/>
<line x1="537.1" y1="288.7" x2="537.1" y2="293.3" stroke="#666" stroke-width="0.71"/>
<line x1="542.1" y1="288.7" x2="542.1" y2="293.3" stroke="#666" stroke-width="0.71"/>
<rect x="534.8" y="326.5" width="9.6" height="4.6" fill="#e6e6e6" stroke="#666" stroke-width="0.94"/>
<line x1="537.1" y1="326.5" x2="542.1" y2="331.1" stroke="#555" stroke-width="0.83"/>
<line x1="537.1" y1="331.1" x2="542.1" y2="326.5" stroke="#555" stroke-width="0.83"/>
<line x1="537.1" y1="326.5" x2="537.1" y2="331.1" stroke="#666" stroke-width="0.71"/>
<line x1="542.1" y1="326.5" x2="542.1" y2="331.1" stroke="#666" stroke-width="0.71"/>
<rect x="534.8" y="363.5" width="9.6" height="4.6" fill="#e6e6e6" stroke="#666" stroke-width="0.94"/>
<line x1="537.1" y1="363.5" x2="542.1" y2="368.1" stroke="#555" stroke-width="0.83"/>
<line x1="537.1" y1="368.1" x2="542.1" y2="363.5" stroke="#555" stroke-width="0.83"/>
<line x1="537.1" y1="363.5" x2="537.1" y2="368.1" stroke="#666" stroke-width="0.71"/>
<line x1="542.1" y1="363.5" x2="542.1" y2="368.1" stroke="#666" stroke-width="0.71"/>
<path d="M534.8 307.5 L539.8 311 L534.8 322.6" fill="none" stroke="#555" stroke-width="0.94"/>
<path d="M534.8 337 L539.8 347.5 L534.8 351.6" fill="none" stroke="#555" stroke-width="0.94"/>
<rect x="335" y="288" width="8.8" height="3.3" fill="#464646"/>
<line x1="343.8" y1="291" x2="343.8" y2="309" stroke="#555" stroke-width="1.06"/>
<path d="M343.8 309 A19 19 0 0 0 362.8 290" fill="none" stroke="#555555" stroke-width="0.94"/>
<rect x="362.5" y="288" width="42.5" height="3.3" fill="#464646"/>
<rect x="372.5" y="243.8" width="3.3" height="47.5" fill="#464646"/>
<rect x="420.5" y="247" width="3.3" height="13" fill="#464646"/>
<rect x="420.5" y="276.2" width="3.3" height="47.8" fill="#464646"/>
<line x1="375.8" y1="258.8" x2="420.5" y2="258.8" stroke="#555" stroke-width="0.94"/>
<rect x="377.5" y="249" width="11.3" height="9" fill="#fff" stroke="#444" stroke-width="1.06"/>
<rect x="378.7" y="250.2" width="8.9" height="6.6" fill="none" stroke="#777" stroke-width="0.71"/>
<line x1="378.7" y1="250.2" x2="387.6" y2="256.8" stroke="#777" stroke-width="0.71"/>
<line x1="378.7" y1="256.8" x2="387.6" y2="250.2" stroke="#777" stroke-width="0.71"/>
<circle cx="383.15" cy="253.5" r="1" fill="#333"/>
<rect x="403.8" y="249.5" width="13.7" height="7.8" fill="none" stroke="#444" stroke-width="1.06"/>
<circle cx="407.5" cy="253.4" r="2.3" fill="#8a8a8a" stroke="#333" stroke-width="0.9"/>
<circle cx="407.5" cy="253.4" r="0.92" fill="#fff" stroke="#333" stroke-width="0.5"/>
<circle cx="413.8" cy="253.4" r="2.3" fill="#8a8a8a" stroke="#333" stroke-width="0.9"/>
<circle cx="413.8" cy="253.4" r="0.92" fill="#fff" stroke="#333" stroke-width="0.5"/>
<line x1="410.65" y1="250.5" x2="410.65" y2="256.3" stroke="#444" stroke-width="0.83"/>
<path d="M437.9 261 A14 14 0 0 1 423.9 275" fill="none" stroke="#555555" stroke-width="0.94"/>
<path d="M420.5 275.3 A15 15 0 0 0 405.5 290.3" fill="none" stroke="#555555" stroke-width="0.94"/>
<path d="M423.9 253.2 H479 V288.5" fill="none" stroke="#555555" stroke-width="0.94"/>
<path d="M423.9 255.8 H475.8 V288.5" fill="none" stroke="#555555" stroke-width="0.94"/>
<line x1="423.9" y1="261" x2="438" y2="261" stroke="#555555" stroke-width="0.83"/>
<text x="0" y="0" font-family='"Liberation Sans", "Noto Sans CJK TC", sans-serif' font-size="10.2" font-weight="500" fill="#4a4a4a" text-anchor="middle" transform="translate(463.7 281.6) scale(0.72 1)">陽臺</text>
<rect x="481.3" y="256.3" width="51" height="30" fill="none" stroke="#555555" stroke-width="0.94"/>
<rect x="482.6" y="257.6" width="48.4" height="27.4" fill="none" stroke="#555555" stroke-width="0.94"/>
<line x1="482.6" y1="257.6" x2="531" y2="285" stroke="#555555" stroke-width="0.94"/>
<line x1="482.6" y1="285" x2="531" y2="257.6" stroke="#555555" stroke-width="0.94"/>
<rect x="420.5" y="288" width="114.5" height="3.3" fill="#464646"/>
<rect x="436.2" y="291.7" width="3.2" height="5" fill="none" stroke="#666" stroke-width="0.83"/>
<rect x="426.2" y="291.7" width="10" height="7.6" fill="#fff" stroke="#555" stroke-width="1.06"/>
<rect x="427.6" y="291.9" width="7.2" height="5.9" fill="none" stroke="#777" stroke-width="0.83"/>
<circle cx="431.2" cy="293.3" r="0.6" fill="#555"/>
<rect x="441.4" y="291.7" width="10.4" height="4" fill="#f2f2f2" stroke="#555" stroke-width="0.94"/>
<rect x="442.5" y="295.2" width="8.2" height="9.5" rx="3" fill="#fff" stroke="#555" stroke-width="0.9"/>
<rect x="444.2" y="297.1" width="4.8" height="5.8" rx="1.8" fill="none" stroke="#777" stroke-width="0.7"/>
<circle cx="461.6" cy="297.2" r="1.15" fill="#444"/>
<line x1="461.6" y1="297.2" x2="461.6" y2="292.6" stroke="#555" stroke-width="0.94"/>
<line x1="459.4" y1="292.4" x2="463.8" y2="292.4" stroke="#555" stroke-width="1.53"/>
<line x1="453.3" y1="291.3" x2="453.3" y2="321.3" stroke="#555555" stroke-width="0.94"/>
<rect x="437.5" y="321.2" width="35.5" height="3.3" fill="#464646"/>
<path d="M437.5 321.6 A13.7 13.7 0 0 0 423.8 307.9" fill="none" stroke="#555555" stroke-width="0.94"/>
<rect x="469.6" y="291" width="3.4" height="33.5" fill="#464646"/>
<rect x="485.3" y="291.7" width="3.2" height="5" fill="none" stroke="#666" stroke-width="0.83"/>
<rect x="475.3" y="291.7" width="10" height="7.6" fill="#fff" stroke="#555" stroke-width="1.06"/>
<rect x="476.7" y="291.9" width="7.2" height="5.9" fill="none" stroke="#777" stroke-width="0.83"/>
<circle cx="480.3" cy="293.3" r="0.6" fill="#555"/>
<rect x="490.1" y="291.7" width="10.4" height="4" fill="#f2f2f2" stroke="#555" stroke-width="0.94"/>
<rect x="491.2" y="295.2" width="8.2" height="9.5" rx="3" fill="#fff" stroke="#555" stroke-width="0.9"/>
<rect x="492.9" y="297.1" width="4.8" height="5.8" rx="1.8" fill="none" stroke="#777" stroke-width="0.7"/>
<circle cx="509.8" cy="297.2" r="1.15" fill="#444"/>
<line x1="509.8" y1="297.2" x2="509.8" y2="292.6" stroke="#555" stroke-width="0.94"/>
<line x1="507.6" y1="292.4" x2="512" y2="292.4" stroke="#555" stroke-width="1.53"/>
<line x1="502.5" y1="291.3" x2="502.5" y2="321.3" stroke="#555555" stroke-width="0.94"/>
<rect x="517.5" y="292.3" width="13.7" height="29" fill="none" stroke="#666" stroke-width="1.06"/>
<rect x="519.2" y="294" width="10.3" height="25.6" fill="none" stroke="#888" stroke-width="0.83"/>
<rect x="486.3" y="321.2" width="48.7" height="3.3" fill="#464646"/>
<path d="M486.3 321.6 A13.3 13.3 0 0 0 473 308.3" fill="none" stroke="#555555" stroke-width="0.94"/>
<path d="M462 326 A16 16 0 0 1 478 342" fill="none" stroke="#555555" stroke-width="0.94"/>
<line x1="458" y1="326.5" x2="462.5" y2="326.5" stroke="#555" stroke-width="1.89"/>
<rect x="393.8" y="342.5" width="3.2" height="59.5" fill="#464646"/>
<path d="M411.5 345.6 A14.5 14.5 0 0 1 397 360.1" fill="none" stroke="#555555" stroke-width="0.94"/>
<rect x="411.3" y="342.5" width="28.7" height="3.1" fill="#464646"/>
<rect x="437" y="342.5" width="3" height="59.5" fill="#464646"/>
<path d="M454 345.6 A14 14 0 0 1 440 359.6" fill="none" stroke="#555555" stroke-width="0.94"/>
<rect x="453.8" y="342.5" width="28.7" height="3.1" fill="#464646"/>
<rect x="479.5" y="342.5" width="3" height="59.5" fill="#464646"/>
<circle cx="358.3" cy="351.5" r="9.6" fill="none" stroke="#555" stroke-width="0.9"/>
<text x="0" y="0" font-family='"Liberation Sans", "Noto Sans CJK TC", sans-serif' font-size="13.5" font-weight="400" fill="#555" text-anchor="middle" transform="translate(358.3 356.3) scale(0.76 1)">A2</text>
</g>
<g id="bottom-facade">
<rect x="135" y="400.6" width="392.5" height="2.8" fill="#9a9a9a"/>
<line x1="135" y1="400.6" x2="527.5" y2="400.6" stroke="#555" stroke-width="0.94"/>
<line x1="135" y1="403.4" x2="527.5" y2="403.4" stroke="#555" stroke-width="0.94"/>
<rect x="135" y="400.3" width="2" height="3.4" fill="#5a5a5a"/>
<rect x="170.2" y="400.3" width="12.8" height="3.4" fill="#464646"/>
<rect x="214.7" y="400.3" width="12.9" height="3.4" fill="#464646"/>
<rect x="259.2" y="400.3" width="9.2" height="3.4" fill="#464646"/>
<rect x="283.6" y="400.3" width="6.4" height="3.4" fill="#464646"/>
<rect x="318" y="400.3" width="26" height="3.4" fill="#464646"/>
<rect x="372" y="400.3" width="6" height="3.4" fill="#464646"/>
<rect x="393.6" y="400.3" width="9.9" height="3.4" fill="#464646"/>
<rect x="435.6" y="400.3" width="11.8" height="3.4" fill="#464646"/>
<rect x="481" y="400.3" width="11" height="3.4" fill="#464646"/>
<rect x="525.5" y="400.3" width="2" height="3.4" fill="#5a5a5a"/>
<line x1="135" y1="411.4" x2="265.6" y2="411.4" stroke="#555555" stroke-width="0.94"/>
<line x1="397.6" y1="411.4" x2="527.5" y2="411.4" stroke="#555555" stroke-width="0.94"/>
<rect x="158.5" y="401" width="11.2" height="2" fill="#f4f4f4"/>
<line x1="158.5" y1="402" x2="169.7" y2="402" stroke="#888" stroke-width="0.59"/>
<path d="M158 403.2 Q158 410.6 162.03 411.4" fill="none" stroke="#666" stroke-width="0.94"/>
<path d="M162.03 411.4 L170.2 403.2" fill="none" stroke="#444" stroke-width="1.53"/>
<rect x="202.5" y="401" width="11.7" height="2" fill="#f4f4f4"/>
<line x1="202.5" y1="402" x2="214.2" y2="402" stroke="#888" stroke-width="0.59"/>
<path d="M202 403.2 Q202 410.6 206.19 411.4" fill="none" stroke="#666" stroke-width="0.94"/>
<path d="M206.19 411.4 L214.7 403.2" fill="none" stroke="#444" stroke-width="1.53"/>
<rect x="247" y="401" width="11.7" height="2" fill="#f4f4f4"/>
<line x1="247" y1="402" x2="258.7" y2="402" stroke="#888" stroke-width="0.59"/>
<path d="M246.5 403.2 Q246.5 410.6 250.69 411.4" fill="none" stroke="#666" stroke-width="0.94"/>
<path d="M250.69 411.4 L259.2 403.2" fill="none" stroke="#444" stroke-width="1.53"/>
<rect x="271.8" y="401" width="11.3" height="2" fill="#f4f4f4"/>
<line x1="271.8" y1="402" x2="283.1" y2="402" stroke="#888" stroke-width="0.59"/>
<path d="M283.6 403.2 Q283.6 410.6 279.54 411.4" fill="none" stroke="#666" stroke-width="0.94"/>
<path d="M279.54 411.4 L271.3 403.2" fill="none" stroke="#444" stroke-width="1.53"/>
<rect x="378.5" y="401" width="10.5" height="2" fill="#f4f4f4"/>
<line x1="378.5" y1="402" x2="389" y2="402" stroke="#888" stroke-width="0.59"/>
<path d="M378 403.2 Q378 410.6 381.8 411.4" fill="none" stroke="#666" stroke-width="0.94"/>
<path d="M381.8 411.4 L389.5 403.2" fill="none" stroke="#444" stroke-width="1.53"/>
<rect x="404" y="401" width="11.1" height="2" fill="#f4f4f4"/>
<line x1="404" y1="402" x2="415.1" y2="402" stroke="#888" stroke-width="0.59"/>
<path d="M415.6 403.2 Q415.6 410.6 411.61 411.4" fill="none" stroke="#666" stroke-width="0.94"/>
<path d="M411.61 411.4 L403.5 403.2" fill="none" stroke="#444" stroke-width="1.53"/>
<rect x="447.9" y="401" width="11.8" height="2" fill="#f4f4f4"/>
<line x1="447.9" y1="402" x2="459.7" y2="402" stroke="#888" stroke-width="0.59"/>
<path d="M460.2 403.2 Q460.2 410.6 455.98 411.4" fill="none" stroke="#666" stroke-width="0.94"/>
<path d="M455.98 411.4 L447.4 403.2" fill="none" stroke="#444" stroke-width="1.53"/>
<rect x="492.5" y="401" width="11.7" height="2" fill="#f4f4f4"/>
<line x1="492.5" y1="402" x2="504.2" y2="402" stroke="#888" stroke-width="0.59"/>
<path d="M504.7 403.2 Q504.7 410.6 500.51 411.4" fill="none" stroke="#666" stroke-width="0.94"/>
<path d="M500.51 411.4 L492 403.2" fill="none" stroke="#444" stroke-width="1.53"/>
<path d="M218 411.4 A494 494 0 0 0 444 411.4" fill="none" stroke="#555555" stroke-width="0.94"/>
<path d="M268.2 418.18 A492 492 0 0 0 323.8 422.15" fill="none" stroke="#888" stroke-width="0.83"/>
<path d="M338.8 422.14 A492 492 0 0 0 393.6 418.2" fill="none" stroke="#888" stroke-width="0.83"/>
<line x1="265.4" y1="403.4" x2="265.4" y2="420.12" stroke="#555555" stroke-width="0.94"/>
<line x1="268.2" y1="403.4" x2="268.2" y2="418.18" stroke="#888" stroke-width="0.83"/>
<line x1="396.4" y1="403.4" x2="396.4" y2="420.15" stroke="#555555" stroke-width="0.94"/>
<line x1="393.6" y1="403.4" x2="393.6" y2="418.2" stroke="#888" stroke-width="0.83"/>
<text x="0" y="0" font-family='"Liberation Sans", "Noto Sans CJK TC", sans-serif' font-size="10.2" font-weight="500" fill="#4a4a4a" text-anchor="middle" transform="translate(294.6 415.4) scale(0.72 1)">陽臺</text>
<text x="0" y="0" font-family='"Liberation Sans", "Noto Sans CJK TC", sans-serif' font-size="10.2" font-weight="500" fill="#4a4a4a" text-anchor="middle" transform="translate(361.6 415.4) scale(0.72 1)">陽臺</text>
</g>
<g id="wall-cores">
<rect x="181.25" y="36.85" width="7" height="2.6" fill="#727272"/>
<rect x="222.45" y="36.85" width="27.6" height="2.6" fill="#727272"/>
<rect x="264.95" y="36.85" width="17.3" height="2.6" fill="#727272"/>
<rect x="372.15" y="36.85" width="8.1" height="2.6" fill="#727272"/>
<rect x="427.25" y="36.85" width="20.6" height="2.6" fill="#727272"/>
<rect x="481.15" y="36.85" width="10.4" height="2.6" fill="#727272"/>
<rect x="530.25" y="36.85" width="1" height="2.6" fill="#727272"/>
<rect x="179.35" y="40.75" width="1.7" height="93" fill="#727272"/>
<rect x="229.55" y="40.75" width="1.7" height="42.7" fill="#727272"/>
<rect x="229.55" y="81.95" width="18.5" height="1.5" fill="#727272"/>
<rect x="266.25" y="69.25" width="1.2" height="14.2" fill="#727272"/>
<rect x="266.25" y="81.95" width="15" height="1.5" fill="#727272"/>
<rect x="279.95" y="40.75" width="1.3" height="42.7" fill="#727272"/>
<rect x="180.75" y="103.05" width="33.5" height="1.4" fill="#727272"/>
<rect x="228.95" y="102.75" width="1.7" height="31" fill="#727272"/>
<rect x="228.95" y="103.05" width="29.8" height="1.4" fill="#727272"/>
<rect x="274.55" y="102.75" width="2.2" height="31" fill="#727272"/>
<rect x="180.75" y="132.05" width="96" height="1.7" fill="#727272"/>
<rect x="270.75" y="151.75" width="1.5" height="15" fill="#727272"/>
<rect x="270.75" y="164.95" width="43.5" height="1.8" fill="#727272"/>
<rect x="332.35" y="132.75" width="1.6" height="17.5" fill="#727272"/>
<rect x="332.35" y="132.75" width="11.3" height="1.5" fill="#727272"/>
<rect x="362.75" y="132.75" width="11.5" height="1.5" fill="#727272"/>
<rect x="331.95" y="40.75" width="1.6" height="44" fill="#727272"/>
<rect x="332.75" y="100.75" width="41.5" height="2.1" fill="#727272"/>
<rect x="372.55" y="38.25" width="1.7" height="106.2" fill="#727272"/>
<rect x="532.55" y="42.75" width="1.7" height="102.5" fill="#727272"/>
<rect x="428.75" y="40.75" width="1.7" height="42.7" fill="#727272"/>
<rect x="428.75" y="81.95" width="15" height="1.5" fill="#727272"/>
<rect x="442.55" y="69.25" width="1.2" height="14.2" fill="#727272"/>
<rect x="459.55" y="81.95" width="22.2" height="1.5" fill="#727272"/>
<rect x="480.25" y="40.75" width="1.5" height="42.7" fill="#727272"/>
<rect x="441.25" y="102.75" width="1.8" height="31" fill="#727272"/>
<rect x="441.25" y="102.75" width="16.8" height="1.5" fill="#727272"/>
<rect x="471.95" y="102.05" width="1.7" height="12.2" fill="#727272"/>
<rect x="471.95" y="102.05" width="17.3" height="1.8" fill="#727272"/>
<rect x="487.75" y="102.05" width="1.5" height="31.7" fill="#727272"/>
<rect x="503.25" y="102.75" width="28" height="1.5" fill="#727272"/>
<rect x="441.25" y="132.05" width="93" height="1.7" fill="#727272"/>
<rect x="282.05" y="167.75" width="1.4" height="78.5" fill="#727272"/>
<rect x="282.05" y="205.25" width="41.2" height="1.6" fill="#727272"/>
<rect x="323.35" y="167.75" width="2.8" height="8.8" fill="#727272"/>
<rect x="323.35" y="196.25" width="2.8" height="17.5" fill="#727272"/>
<rect x="323.35" y="234.75" width="2.8" height="11.5" fill="#727272"/>
<rect x="372.55" y="187.95" width="1.7" height="58.3" fill="#727272"/>
<rect x="254.55" y="245.75" width="79.7" height="1.7" fill="#727272"/>
<rect x="254.55" y="245.75" width="1.7" height="14.8" fill="#727272"/>
<rect x="254.55" y="275.75" width="1.7" height="14.8" fill="#727272"/>
<rect x="302.75" y="245.75" width="1.7" height="44.8" fill="#727272"/>
<rect x="271.95" y="288.75" width="32.5" height="1.8" fill="#727272"/>
<rect x="127.75" y="288.75" width="128.5" height="1.8" fill="#727272"/>
<rect x="129.55" y="321.95" width="46" height="1.8" fill="#727272"/>
<rect x="189.55" y="291.75" width="2" height="32" fill="#727272"/>
<rect x="189.55" y="321.95" width="36" height="1.8" fill="#727272"/>
<rect x="238.75" y="291.75" width="2.1" height="32" fill="#727272"/>
<rect x="180.25" y="343.25" width="1.6" height="58" fill="#727272"/>
<rect x="180.25" y="343.25" width="27" height="1.6" fill="#727272"/>
<rect x="223.25" y="343.25" width="2.2" height="58" fill="#727272"/>
<rect x="223.25" y="343.25" width="26" height="1.6" fill="#727272"/>
<rect x="265.35" y="343.25" width="1.9" height="58" fill="#727272"/>
<rect x="331.95" y="261.75" width="2.3" height="139.5" fill="#727272"/>
<rect x="335.75" y="288.75" width="7.3" height="1.8" fill="#727272"/>
<rect x="363.25" y="288.75" width="41" height="1.8" fill="#727272"/>
<rect x="373.25" y="244.55" width="1.8" height="46" fill="#727272"/>
<rect x="421.25" y="247.75" width="1.8" height="11.5" fill="#727272"/>
<rect x="421.25" y="276.95" width="1.8" height="46.3" fill="#727272"/>
<rect x="421.25" y="288.75" width="113" height="1.8" fill="#727272"/>
<rect x="438.25" y="321.95" width="34" height="1.8" fill="#727272"/>
<rect x="470.35" y="291.75" width="1.9" height="32" fill="#727272"/>
<rect x="487.05" y="321.95" width="47.2" height="1.8" fill="#727272"/>
<rect x="394.55" y="343.25" width="1.7" height="58" fill="#727272"/>
<rect x="412.05" y="343.25" width="27.2" height="1.6" fill="#727272"/>
<rect x="437.75" y="343.25" width="1.5" height="58" fill="#727272"/>
<rect x="454.55" y="343.25" width="27.2" height="1.6" fill="#727272"/>
<rect x="480.25" y="343.25" width="1.5" height="58" fill="#727272"/>
<rect x="170.95" y="401.05" width="11.3" height="1.9" fill="#727272"/>
<rect x="215.45" y="401.05" width="11.4" height="1.9" fill="#727272"/>
<rect x="259.95" y="401.05" width="7.7" height="1.9" fill="#727272"/>
<rect x="284.35" y="401.05" width="4.9" height="1.9" fill="#727272"/>
<rect x="318.75" y="401.05" width="24.5" height="1.9" fill="#727272"/>
<rect x="372.75" y="401.05" width="4.5" height="1.9" fill="#727272"/>
<rect x="394.35" y="401.05" width="8.4" height="1.9" fill="#727272"/>
<rect x="436.35" y="401.05" width="10.3" height="1.9" fill="#727272"/>
<rect x="481.75" y="401.05" width="9.5" height="1.9" fill="#727272"/>
</g>
<g id="columns">
<rect x="164" y="22.5" width="16.5" height="20" fill="#4d4d4d"/>
<rect x="318" y="22.5" width="20.5" height="17.3" fill="#4d4d4d"/>
<rect x="532" y="22" width="17" height="20" fill="#4d4d4d"/>
<rect x="164.5" y="147" width="16" height="20" fill="#4d4d4d"/>
<rect x="314.5" y="150" width="20" height="17.5" fill="#4d4d4d"/>
<rect x="533" y="146" width="16.5" height="20" fill="#4d4d4d"/>
<rect x="118" y="234.5" width="17" height="21.5" fill="#4d4d4d"/>
<rect x="313.6" y="245" width="21.4" height="17.2" fill="#4d4d4d"/>
<rect x="527.5" y="233.8" width="17" height="21.7" fill="#4d4d4d"/>
<rect x="118" y="401" width="17" height="23.5" fill="#4d4d4d"/>
<rect x="323.8" y="402" width="15" height="20" fill="#4d4d4d"/>
<rect x="527.5" y="400.8" width="17" height="23" fill="#4d4d4d"/>
</g>
<text x="0" y="0" font-family='"Liberation Sans", "Noto Sans CJK TC", sans-serif' font-size="19.4" font-weight="300" fill="#555" text-anchor="middle" transform="translate(336.2 457.2) scale(0.77 1)">陸, 捌, 拾層平面圖</text>
<filter id="wmshadow" x="-10%" y="-40%" width="120%" height="180%"><feGaussianBlur in="SourceAlpha" stdDeviation="0.75" result="b"/><feOffset in="b" dx="0.4" dy="0.6" result="o"/><feComponentTransfer in="o" result="s"><feFuncA type="linear" slope="0.46"/></feComponentTransfer><feMerge><feMergeNode in="s"/><feMergeNode in="SourceGraphic"/></feMerge></filter>
<g id="watermark" font-family='"Liberation Sans", "Noto Sans CJK TC", sans-serif' font-weight="700" fill="#ffffff" fill-opacity="0.36" stroke="#ffffff" stroke-opacity="0.36" stroke-width="0.4">
<text filter="url(#wmshadow)" transform="translate(66 63) rotate(-26.5)"><tspan font-size="28" textLength="39" lengthAdjust="spacingAndGlyphs">591</tspan><tspan font-size="17.2" font-weight="500" dy="-2" dx="0.5" textLength="63" lengthAdjust="spacing">房屋交易</tspan></text>
<text filter="url(#wmshadow)" transform="translate(260 125) rotate(-26.5)"><tspan font-size="28" textLength="39" lengthAdjust="spacingAndGlyphs">591</tspan><tspan font-size="17.2" font-weight="500" dy="-2" dx="0.5" textLength="63" lengthAdjust="spacing">房屋交易</tspan></text>
<text filter="url(#wmshadow)" transform="translate(446 199) rotate(-26.5)"><tspan font-size="28" textLength="39" lengthAdjust="spacingAndGlyphs">591</tspan><tspan font-size="17.2" font-weight="500" dy="-2" dx="0.5" textLength="63" lengthAdjust="spacing">房屋交易</tspan></text>
<text filter="url(#wmshadow)" transform="translate(638 273) rotate(-26.5)"><tspan font-size="28" textLength="39" lengthAdjust="spacingAndGlyphs">591</tspan><tspan font-size="17.2" font-weight="500" dy="-2" dx="0.5" textLength="63" lengthAdjust="spacing">房屋交易</tspan></text>
<text filter="url(#wmshadow)" transform="translate(34 253) rotate(-26.5)"><tspan font-size="28" textLength="39" lengthAdjust="spacingAndGlyphs">591</tspan><tspan font-size="17.2" font-weight="500" dy="-2" dx="0.5" textLength="63" lengthAdjust="spacing">房屋交易</tspan></text>
<text filter="url(#wmshadow)" transform="translate(226 336) rotate(-26.5)"><tspan font-size="28" textLength="39" lengthAdjust="spacingAndGlyphs">591</tspan><tspan font-size="17.2" font-weight="500" dy="-2" dx="0.5" textLength="63" lengthAdjust="spacing">房屋交易</tspan></text>
<text filter="url(#wmshadow)" transform="translate(415 401) rotate(-26.5)"><tspan font-size="28" textLength="39" lengthAdjust="spacingAndGlyphs">591</tspan><tspan font-size="17.2" font-weight="500" dy="-2" dx="0.5" textLength="63" lengthAdjust="spacing">房屋交易</tspan></text>
<text filter="url(#wmshadow)" transform="translate(605 487) rotate(-26.5)"><tspan font-size="28" textLength="39" lengthAdjust="spacingAndGlyphs">591</tspan><tspan font-size="17.2" font-weight="500" dy="-2" dx="0.5" textLength="63" lengthAdjust="spacing">房屋交易</tspan></text>
<text filter="url(#wmshadow)" transform="translate(3 467) rotate(-26.5)"><tspan font-size="28" textLength="39" lengthAdjust="spacingAndGlyphs">591</tspan><tspan font-size="17.2" font-weight="500" dy="-2" dx="0.5" textLength="63" lengthAdjust="spacing">房屋交易</tspan></text>
<text filter="url(#wmshadow)" transform="translate(208 522) rotate(-26.5)"><tspan font-size="28" textLength="39" lengthAdjust="spacingAndGlyphs">591</tspan><tspan font-size="17.2" font-weight="500" dy="-2" dx="0.5" textLength="63" lengthAdjust="spacing">房屋交易</tspan></text>
</g>
</svg>
</body></html>
